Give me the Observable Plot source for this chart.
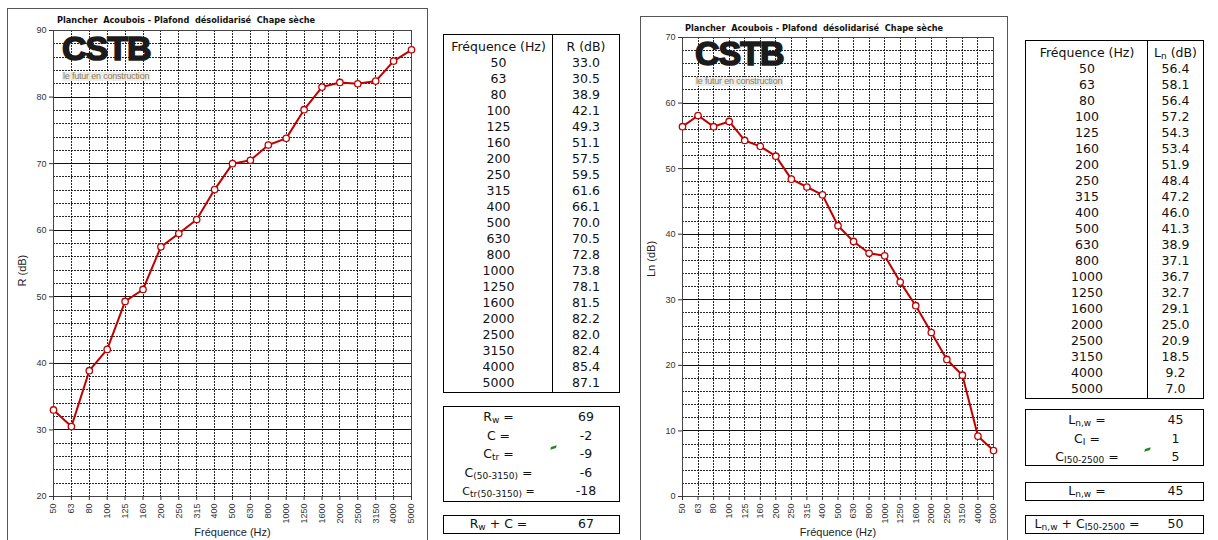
<!DOCTYPE html>
<html>
<head>
<meta charset="utf-8">
<script src="https://cdn.jsdelivr.net/npm/d3@7"></script>
<script src="https://cdn.jsdelivr.net/npm/@observablehq/plot@0.6"></script>
<style>
  body { margin: 0; width: 1218px; height: 540px; overflow: hidden; background: #fff; position: relative; }
  .panel { position: absolute; border: 1.5px solid #555; box-sizing: border-box; }
  .chart { position: absolute; }
  .chart svg { overflow: visible; }
  .title { position: absolute; font: bold 8.2px/10px "DejaVu Sans", Verdana, sans-serif; white-space: pre; color: #111; }
  .logo { position: absolute; font-family: "Liberation Sans", Arial, sans-serif; }
  .logo .big { font-weight: bold; font-size: 34px; line-height: 34px; letter-spacing: -1px; color: #1b1b1b; -webkit-text-stroke: 1.6px #1b1b1b; }
  .logo .tag { font-size: 9px; line-height: 9px; color: #8a7a52; background: rgba(236,236,236,0.95); padding: 0 1px; white-space: nowrap; display: inline-block; letter-spacing: -0.2px; }
  .tbl { position: absolute; border: 1.5px solid #000; box-sizing: border-box; font-family: "DejaVu Sans", Verdana, sans-serif; font-size: 12.5px; color: #111; background: #fff; }
  .tbl .row { display: flex; height: 16px; line-height: 16px; }
  .tbl .row.head { height: 17px; line-height: 17px; }
  .tbl .c1 { text-align: center; flex: none; white-space: nowrap; }
  .tbl .c2 { text-align: center; flex: 1; white-space: nowrap; }
  .tbl .divider { position: absolute; top: 0; bottom: 0; border-left: 1.5px solid #000; }
  .tbl sub { font-size: 9px; vertical-align: -2px; line-height: 0; }
  .tbl .small { font-size: 11px; }
  .flag { position: absolute; width: 5px; height: 3px; background: #1f8a1f; transform: skewX(-30deg) rotate(-20deg); }
</style>
</head>
<body>
<script>
// Frequencies of the third-octave bands (Hz)
const frequencies = ["50","63","80","100","125","160","200","250","315","400","500","630","800","1000","1250","1600","2000","2500","3150","4000","5000"];
// Airborne sound reduction index R (dB)
const airborneR = [33.0, 30.5, 38.9, 42.1, 49.3, 51.1, 57.5, 59.5, 61.6, 66.1, 70.0, 70.5, 72.8, 73.8, 78.1, 81.5, 82.2, 82.0, 82.4, 85.4, 87.1];
// Normalized impact sound pressure level Ln (dB)
const impactLn = [56.4, 58.1, 56.4, 57.2, 54.3, 53.4, 51.9, 48.4, 47.2, 46.0, 41.3, 38.9, 37.1, 36.7, 32.7, 29.1, 25.0, 20.9, 18.5, 9.2, 7.0];

// Single-number ratings
const airborneLabels = ["R<sub>w</sub> =", "C =", "C<sub>tr</sub> =", "C<sub>(50-3150)</sub> =", "<span class='small'>C<sub>tr(50-3150)</sub> =</span>"];
const airborneValues = [69, -2, -9, -6, -18];
const airborneSumLabel = ["R<sub>w</sub> + C ="];
const airborneSumValue = [67];
const impactLabels = ["L<sub>n,w</sub> =", "C<sub>I</sub> =", "C<sub>I50-2500</sub> ="];
const impactValues = [45, 1, 5];
const impactTotalLabels = ["L<sub>n,w</sub> =", "L<sub>n,w</sub> + C<sub>I50-2500</sub> ="];
const impactTotalValues = [45, 50];

const chartTitle = "Plancher  Acoubois - Plafond  désolidarisé  Chape sèche";

function place(el, css) { Object.assign(el.style, css); document.body.appendChild(el); return el; }
function div(cls, html) { const d = document.createElement("div"); if (cls) d.className = cls; if (html != null) d.innerHTML = html; return d; }

// Bands are evenly spaced along x: position = band index, labelled with its frequency
const bandIndex = d3.range(frequencies.length);

function drawChart(values, o) {
  const rows = bandIndex.map(i => ({band: i, value: values[i]}));
  const [lo, hi] = o.yDomain;
  const major = d3.range(lo, hi + 1, 10);
  const minor = d3.range(lo, hi + 1, 2).filter(v => v % 10 !== 0);
  const dash = {stroke: "#000", strokeDasharray: "2,1", strokeWidth: 1, strokeOpacity: 0.85, shapeRendering: "crispEdges"};
  return Plot.plot({
    width: o.width, height: o.height,
    marginLeft: o.marginLeft, marginRight: o.marginRight, marginTop: o.marginTop, marginBottom: o.marginBottom,
    style: {fontFamily: "'Liberation Sans', Arial, sans-serif", fontSize: "9px", color: "#333", background: "transparent", overflow: "visible"},
    x: {domain: [0, frequencies.length - 1]},
    y: {domain: o.yDomain},
    marks: [
      Plot.ruleX(bandIndex, dash),
      Plot.ruleY(minor, dash),
      Plot.ruleY(major, {stroke: "#111", strokeWidth: 1, shapeRendering: "crispEdges"}),
      Plot.frame({stroke: "#444", strokeWidth: 1, shapeRendering: "crispEdges"}),
      Plot.axisY(major, {tickSize: 4, tickPadding: 3, label: null}),
      Plot.axisX(bandIndex, {tickSize: 4, tickPadding: 3, tickRotate: -90, label: null, tickFormat: i => frequencies[i]}),
      Plot.text([o.yLabel], {frameAnchor: "left", dx: o.yLabelDx, dy: o.yLabelDy, rotate: -90, fontSize: 11, fill: "#222"}),
      Plot.text(["Fréquence (Hz)"], {frameAnchor: "bottom", dy: 39, fontSize: 11, fill: "#222"}),
      Plot.line(rows, {x: "band", y: "value", stroke: "#c00000", strokeWidth: 2}),
      Plot.dot(rows, {x: "band", y: "value", r: 3.2, fill: "white", stroke: "#c00000", strokeWidth: 1.3})
    ]
  });
}

function logo(left, top) {
  const l = div("logo", "<div class='big'>CSTB</div><div class='tag'>le futur en construction</div>");
  place(l, {left: left + "px", top: top + "px"});
}

function dataTable(left, top, width, height, c1, header, values) {
  const t = div("tbl");
  place(t, {left: left + "px", top: top + "px", width: width + "px", height: height + "px", paddingTop: "2.5px"});
  t.appendChild(div("row head", `<span class="c1" style="width:${c1}px">${header[0]}</span><span class="c2">${header[1]}</span>`));
  frequencies.forEach((f, i) => {
    t.appendChild(div("row", `<span class="c1" style="width:${c1}px">${f}</span><span class="c2">${values[i].toFixed(1)}</span>`));
  });
  const d = div("divider"); d.style.left = (c1 - 1.5) + "px"; t.appendChild(d);
}

function ratingBox(left, top, width, height, c1, labels, vals, rowH, padTop) {
  const t = div("tbl");
  place(t, {left: left + "px", top: top + "px", width: width + "px", height: height + "px", paddingTop: padTop + "px"});
  labels.forEach((lab, i) => {
    const r = div("row", `<span class="c1" style="width:${c1}px">${lab}</span><span class="c2">${vals[i]}</span>`);
    r.style.height = rowH + "px"; r.style.lineHeight = rowH + "px";
    t.appendChild(r);
  });
}

// ---- Left: airborne insulation ----
place(div("panel"), {left: "7px", top: "8px", width: "421px", height: "560px"});
const left = document.createElement("div"); left.className = "chart";
place(left, {left: "8px", top: "9px"});
left.appendChild(drawChart(airborneR, {
  yDomain: [20, 90], width: 419, height: 536,
  marginLeft: 45, marginRight: 16, marginTop: 21, marginBottom: 49,
  yLabel: "R (dB)", yLabelDx: -31, yLabelDy: 23
}));
place(div("title", chartTitle), {left: "57px", top: "15px"});
logo(62, 30.5);

dataTable(443, 34, 177, 359, 109, ["Fréquence (Hz)", "R (dB)"], airborneR);
ratingBox(443, 406, 177, 96, 109, airborneLabels, airborneValues, 18.5, 1);
ratingBox(443, 515, 177, 19, 109, airborneSumLabel, airborneSumValue, 16, 0);
place(div("flag"), {left: "551px", top: "446px"});

// ---- Right: impact insulation ----
place(div("panel"), {left: "640px", top: "16px", width: "368px", height: "560px"});
const right = document.createElement("div"); right.className = "chart";
place(right, {left: "641px", top: "17px"});
right.appendChild(drawChart(impactLn, {
  yDomain: [0, 70], width: 366, height: 528,
  marginLeft: 41, marginRight: 14, marginTop: 20, marginBottom: 49,
  yLabel: "Ln (dB)", yLabelDx: -31, yLabelDy: 10
}));
place(div("title", chartTitle), {left: "685px", top: "23px"});
logo(695, 36);

dataTable(1025, 40, 179, 359, 122, ["Fréquence (Hz)", "L<sub>n</sub> (dB)"], impactLn);
ratingBox(1025, 409, 179, 57, 122, impactLabels, impactValues, 18.5, 1);
ratingBox(1025, 482, 179, 19, 122, [impactTotalLabels[0]], [impactTotalValues[0]], 16, 0);
ratingBox(1025, 515, 179, 19, 122, [impactTotalLabels[1]], [impactTotalValues[1]], 16, 0);
place(div("flag"), {left: "1145px", top: "448px"});
</script>
</body>
</html>
